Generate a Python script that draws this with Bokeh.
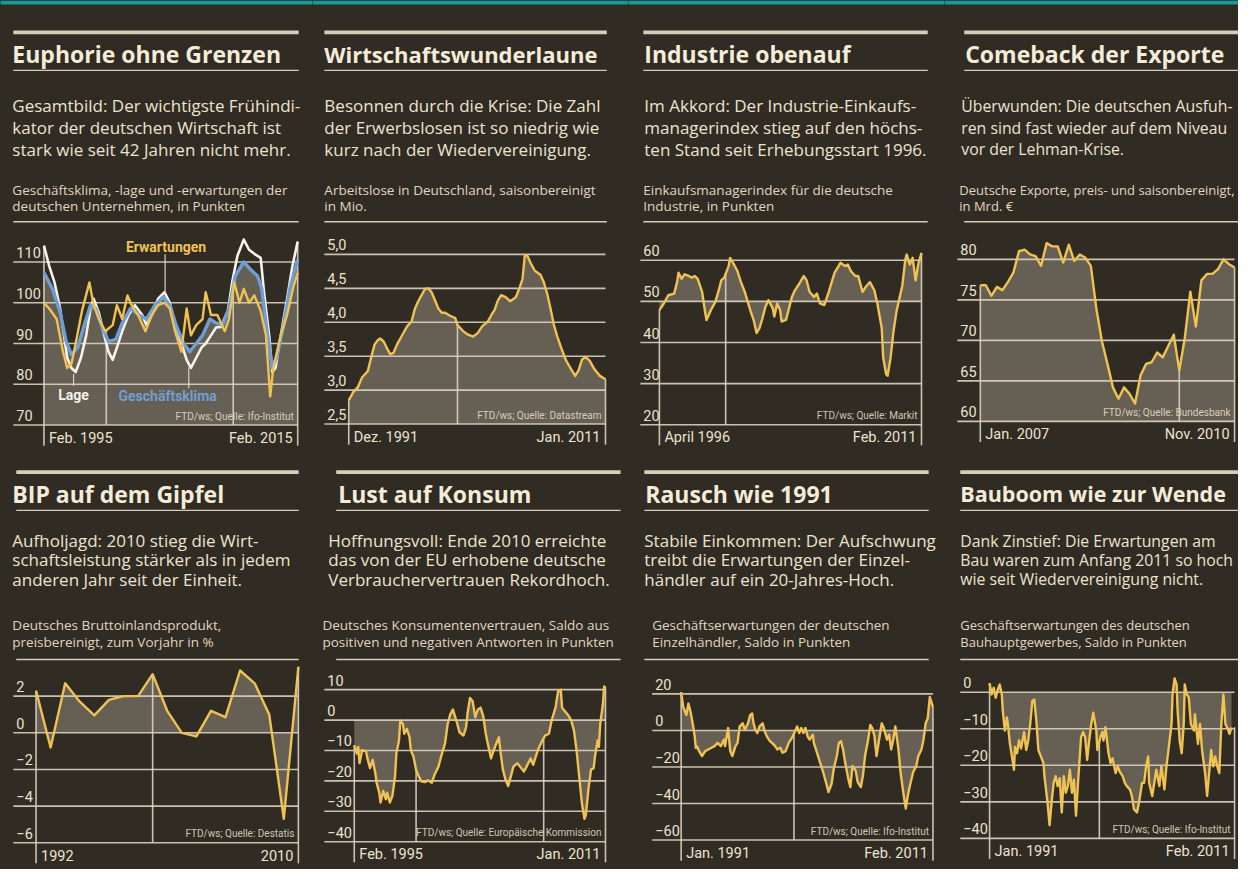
import numpy as np
from bokeh.plotting import figure
from bokeh.layouts import row, column
from bokeh.models import Range1d
from bokeh.core.properties import value
from bokeh.embed import file_html
from bokeh.resources import INLINE

# ---------------- data ----------------
# Panel 1: ifo (months from Feb. 1995)
ifo_lage_m = [0, 5, 10, 15, 19, 22, 26, 30, 35, 40, 44, 47, 52, 57, 61, 65, 69, 74, 80, 86,
              93, 97, 102, 108, 114, 119, 124, 130, 135, 139, 144, 149, 153, 158, 163, 167, 174, 178, 183, 189,
              194, 199, 205, 208, 213, 216, 219, 224, 230, 235, 240]
ifo_lage = [114, 109, 105, 99, 92, 86.5, 84, 83, 86.5, 92, 98.5, 101, 97.5, 92, 88, 86, 89, 93, 97, 99.4,
            97, 94.5, 97, 101, 102.6, 100, 95, 90, 86, 84, 86.5, 89, 90, 92, 94, 94, 98, 105, 111.5, 115.5,
            113, 112, 111, 103, 92, 83, 84, 92, 101, 109, 115]
ifo_klima_m = [0, 8, 15, 21, 26, 32, 38, 44, 49, 55, 61, 68, 74, 82, 90, 97, 105, 113, 119, 125,
               132, 138, 144, 150, 157, 163, 169, 175, 181, 189, 196, 202, 206, 211, 216, 220, 227, 233, 240]
ifo_klima = [107.4, 103.4, 98, 90.5, 87.3, 89, 94.5, 99.4, 98.6, 94, 90.5, 91, 95, 98.6, 97, 96, 99.4, 101.4, 99.4, 94.5,
             90, 88, 90, 92, 96, 95, 94.5, 98.6, 106.6, 110, 108, 106.6, 103.4, 93, 84, 86.5, 95, 104, 110.6]
ifo_erw_m = [0, 5, 12, 18, 22, 26, 30, 36, 43, 47, 52, 58, 65, 69, 74, 79, 83, 89, 96, 102,
             108, 114, 119, 124, 130, 135, 139, 144, 150, 153, 158, 164, 171, 175, 180, 185, 189, 194, 199, 205,
             210, 214, 217, 224, 230, 236, 240]
ifo_erw = [100, 98.6, 96, 88, 84, 85, 90, 98, 105, 99.4, 96, 93, 94.5, 99.4, 96, 101.8, 99.4, 97, 93, 97,
           99.4, 100, 98.6, 93, 88, 98.6, 92, 94.5, 96, 102.6, 97, 97, 93, 96, 105, 100, 103.4, 100, 101.8, 98,
           92, 77, 84, 92, 97, 104, 107.4]
ifo_ticks = [70, 80, 90, 100, 110]
ifo_tick_labels = ["70", "80", "90", "100", "110"]
ifo_vticks = [59, 179]
ifo_xlabels = ["Feb. 1995", "Feb. 2015"]

# Panel 2: Arbeitslose (months from Dez. 1991)
alo_m = [0, 4, 8, 12, 17, 20, 23, 26, 28, 31, 34, 37, 40, 43, 48, 52, 56, 59, 62, 65,
         68, 71, 74, 77, 80, 83, 86, 90, 95, 97, 102, 106, 111, 115, 119, 124, 127, 130, 133, 136,
         140, 144, 149, 152, 155, 157, 159, 162, 166, 171, 174, 177, 180, 183, 186, 190, 194, 199, 202, 205,
         208, 211, 215, 219, 224, 229]
alo_mio = [2.85, 2.97, 3.04, 3.19, 3.28, 3.48, 3.67, 3.74, 3.76, 3.72, 3.62, 3.53, 3.55, 3.67, 3.82, 3.94, 4.01, 4.20, 4.31, 4.40,
           4.49, 4.50, 4.44, 4.32, 4.20, 4.14, 4.14, 4.10, 4.06, 3.96, 3.87, 3.82, 3.79, 3.84, 3.94, 4.01, 4.10, 4.18, 4.32, 4.40,
           4.37, 4.31, 4.37, 4.49, 4.64, 4.98, 4.99, 4.88, 4.76, 4.70, 4.59, 4.42, 4.20, 3.96, 3.79, 3.60, 3.43, 3.29, 3.21, 3.29,
           3.45, 3.49, 3.43, 3.31, 3.21, 3.16]
alo_ticks = [2.5, 3.0, 3.5, 4.0, 4.5, 5.0]
alo_tick_labels = ["2,5", "3,0", "3,5", "4,0", "4,5", "5,0"]
alo_vticks = [97]
alo_xlabels = ["Dez. 1991", "Jan. 2011"]

# Panel 3: Einkaufsmanagerindex (months from April 1996)
pmi_m = [0, 3, 6, 10, 12, 13, 15, 17, 20, 22, 24, 26, 29, 31, 32, 35, 38, 40, 42, 44,
         47, 48, 50, 53, 55, 58, 60, 62, 64, 66, 68, 70, 72, 74, 77, 78, 80, 82, 83, 86,
         88, 90, 92, 95, 98, 100, 102, 105, 107, 109, 112, 115, 117, 119, 123, 126, 128, 130, 133, 135,
         138, 140, 143, 146, 148, 151, 152, 154, 155, 157, 159, 161, 163, 165, 167, 168, 170, 172, 174, 176, 178]
pmi = [47.9, 49.5, 51.5, 51.9, 54.7, 57.0, 55.5, 56.6, 56.2, 55.8, 56.2, 55.5, 52.3, 47.5, 45.5, 47.9, 49.9, 52.3, 55.1, 55.8,
       58.6, 60.6, 59.4, 57.4, 55.1, 52.3, 49.9, 47.5, 45.5, 42.3, 43.5, 45.9, 48.7, 50.3, 48.3, 46.3, 49.5, 47.9, 45.1, 45.5,
       48.3, 51.1, 52.7, 54.3, 56.2, 55.1, 52.3, 51.1, 51.9, 49.5, 49.1, 52.3, 54.7, 57.0, 59.4, 58.6, 59.0, 57.4, 56.2, 56.2,
       52.3, 53.5, 54.7, 52.7, 49.5, 43.5, 36.3, 32.3, 31.9, 36.3, 42.7, 47.5, 50.7, 53.9, 60.2, 61.4, 59.0, 60.6, 55.1, 59.4, 61.8]
pmi_ticks = [20, 30, 40, 50, 60]
pmi_tick_labels = ["20", "30", "40", "50", "60"]
pmi_vticks = [45]
pmi_xlabels = ["April 1996", "Feb. 2011"]

# Panel 4: Exporte (months from Jan. 2007)
exp_m = list(range(47))
exp_mrd = [76.8, 76.8, 75.5, 76.6, 76.2, 77.2, 78.4, 81.0, 81.2, 80.6, 80.4, 79.2, 82.0, 81.6, 81.6, 79.6, 81.8, 79.8, 80.6, 80.2,
           79.2, 73.9, 69.9, 67.1, 64.2, 62.8, 64.2, 63.4, 62.2, 65.7, 67.1, 67.3, 68.5, 67.9, 69.3, 70.7, 66.3, 70.3, 76.0, 71.7,
           77.4, 78.2, 78.2, 78.8, 80.0, 79.4, 79.0]
exp_ticks = [60, 65, 70, 75, 80]
exp_tick_labels = ["60", "65", "70", "75", "80"]
exp_vticks = [36]
exp_xlabels = ["Jan. 2007", "Nov. 2010"]

# Panel 5: BIP
bip_years = [1992, 1993, 1994, 1995, 1996, 1997, 1998, 1999, 2000, 2001,
             2002, 2003, 2004, 2005, 2006, 2007, 2008, 2009, 2010]
bip_pct = [2.3, -0.8, 2.7, 1.7, 0.95, 1.8, 2.0, 2.0, 3.2, 1.2,
           0.0, -0.2, 1.2, 0.85, 3.4, 2.7, 1.0, -4.7, 3.6]
bip_ticks = [-6, -4, -2, 0, 2]
bip_tick_labels = ["\u22126", "\u22124", "\u22122", "0", "2"]
bip_vticks = [2000]
bip_xlabels = ["1992", "2010"]

# Panel 6: Konsumentenvertrauen (months from Feb. 1995)
kon_m = [0, 2, 3, 4, 6, 9, 10, 12, 14, 16, 17, 19, 20, 22, 24, 25, 27, 29, 31, 32,
         34, 35, 37, 38, 40, 42, 43, 45, 47, 49, 51, 54, 56, 59, 61, 64, 66, 69, 71, 73,
         75, 78, 80, 83, 85, 86, 88, 90, 92, 94, 96, 98, 100, 101, 104, 106, 108, 110, 111, 113,
         115, 117, 119, 121, 124, 126, 129, 131, 134, 136, 138, 140, 143, 145, 148, 150, 153, 155, 157, 158,
         160, 163, 165, 167, 169, 171, 173, 175, 176, 178, 180, 182, 183, 185, 186, 187, 189, 190, 191]
kon = [-8.3, -11, -8.8, -14.2, -9.9, -10.4, -12.6, -15.8, -13.1, -17.4, -20.6, -23.9, -27.1, -23.3, -26, -23.9, -27.1, -24.9, -18.5, -11,
       -6.7, -0.2, -1.3, -4.5, -2.9, -5.6, -9.9, -12, -16.3, -18.5, -20.1, -20.4, -19.8, -20.6, -18, -15.3, -12, -7.7, -1.3, 1.9,
       3.5, -0.8, -4, -5.1, -2.4, 1.9, 7.3, 6.2, 0.9, 3.5, 4.1, 1.4, -4.5, -6.7, -12.6, -9.9, -7.7, -5.6, -9.9, -16.3,
       -19.6, -21.7, -18.5, -15.3, -14.2, -15.3, -16.9, -15.3, -12.6, -14.7, -12, -9.4, -6.7, -5.1, -4.5, -0.2, 4.1, 9.5, 10, 4.1,
       3, 1.4, -0.2, -3.4, -9.9, -18.5, -27.1, -32.5, -31.4, -22.8, -16.3, -15.8, -12, -6.7, -8.8, -1.3, 5.2, 11.1, 10.5]
kon_ticks = [-40, -30, -20, -10, 0, 10]
kon_tick_labels = ["\u221240", "\u221230", "\u221220", "\u221210", "0", "10"]
kon_vticks = [47, 144]
kon_xlabels = ["Feb. 1995", "Jan. 2011"]

# Panel 7: Einzelhandel (months from Jan. 1991)
ezh_m = [0, 2, 5, 7, 9, 11, 13, 14, 15, 18, 20, 23, 26, 29, 32, 35, 38, 41, 42, 45,
         47, 49, 52, 54, 56, 59, 61, 64, 66, 68, 69, 71, 73, 75, 78, 80, 82, 85, 87, 90,
         92, 95, 97, 100, 103, 106, 109, 111, 113, 115, 117, 119, 121, 123, 126, 127, 130, 133, 136, 139,
         141, 144, 146, 149, 151, 153, 155, 157, 160, 162, 164, 167, 169, 172, 174, 176, 179, 181, 183, 185,
         187, 190, 192, 194, 197, 199, 201, 203, 205, 208, 210, 213, 215, 217, 219, 222, 225, 227, 230, 232,
         234, 236, 238, 239, 241]
ezh = [21, 12.9, 8.4, 14.7, 10.2, 3.9, -3.2, -9.5, -8.6, -12.2, -14, -11.3, -10.4, -9.5, -8.6, -6.8, -8.6, -5, -8.6, 1.3,
       -11.3, -14, -8.6, -6.8, 2.2, 3.9, 0.4, 3.9, 8.4, 9.3, 4.8, 0.4, -1.4, 2.2, 3.9, -0.5, -3.2, -5.9, -6.8, -8.6,
       -10.4, -9.5, -12.2, -11.3, -6.8, -4.1, -0.5, 2.2, -1.4, 1.3, -1.4, 1.3, -3.2, -5, -2.3, -6.8, -12.2, -17.6, -22.9, -29.2,
       -33.7, -29.2, -21.1, -14, -6.8, -5.9, -10.4, -17.6, -26.5, -31, -19.4, -22, -28.3, -31, -24.7, -14, -5, 3, 1.3, -3.2,
       -14, -3.2, 3.9, 1.3, -5, -2.3, -10.4, -5, 2.2, -10.4, -22.9, -35.5, -42.7, -35.5, -30.1, -22.9, -19.4, -14, -10.4, -5,
       3.9, 6.6, 18.3, 16.5, 12.9]
ezh_ticks = [-60, -40, -20, 0, 20]
ezh_tick_labels = ["\u221260", "\u221240", "\u221220", "0", "20"]
ezh_vticks = [108]
ezh_xlabels = ["Jan. 1991", "Feb. 2011"]

# Panel 8: Bauhauptgewerbe (months from Jan. 1991)
bau_m = [0, 2, 4, 6, 8, 10, 12, 13, 15, 17, 18, 20, 22, 24, 25, 27, 29, 31, 34, 36,
         38, 40, 42, 44, 46, 48, 50, 53, 54, 57, 59, 61, 63, 65, 67, 69, 71, 73, 75, 77,
         79, 81, 83, 85, 87, 90, 92, 94, 96, 98, 100, 102, 105, 106, 109, 111, 112, 114, 117, 119,
         121, 124, 126, 128, 131, 133, 135, 138, 140, 142, 145, 147, 150, 152, 154, 156, 157, 160, 162, 164,
         167, 169, 172, 174, 176, 179, 180, 182, 184, 185, 187, 189, 191, 192, 194, 196, 198, 201, 202, 205,
         207, 209, 212, 214, 216, 218, 220, 222, 224, 226, 228, 230, 232, 235, 236, 238]
bau = [2.5, -0.6, 1.2, -1.5, 0.7, 2.1, -0.6, -5.1, -10.5, -6.9, -8.7, -14.1, -17.6, -21.2, -15, -16.7, -13.2, -15.4, -10.9, -15.8,
       -13.2, -8.7, -2.4, -2, -7.8, -15.8, -17.2, -19.4, -23, -30.2, -36.4, -30.2, -24.8, -23, -25.7, -23.5, -32.9, -23, -27.5, -25.7,
       -21.2, -27.5, -23.9, -33.8, -24.8, -12.3, -10.9, -12.3, -18.5, -13.2, -8.7, -5.6, -10.5, -15.8, -12.3, -10.9, -13.2, -9.6, -16.7, -19.4,
       -18.1, -22.1, -20.3, -21.7, -23, -24.8, -25.7, -26.6, -28.4, -32, -32.9, -30.2, -24.8, -24.8, -20.3, -17.6, -24.8, -28.4, -24.8, -21.2,
       -25.7, -20.3, -26.6, -20.3, -15.8, -8.7, -0.6, 3.8, 2.1, -5.1, -13.2, -16.7, -8.7, 2.1, -0.6, -1.5, -8.7, -10.5, -6, -14.1,
       -8.7, -15.8, -22.1, -28.4, -22.1, -15.8, -20.3, -17.6, -20.3, -22.1, -8.7, -0.6, -8.7, -10.5, -11.4, -9.6]
bau_ticks = [-40, -30, -20, -10, 0]
bau_tick_labels = ["\u221240", "\u221230", "\u221220", "\u221210", "0"]
bau_vticks = [108]
bau_xlabels = ["Jan. 1991", "Feb. 2011"]

# ---------------- style / layout ----------------
BG = "#302b23"
TEAL = "#139c98"
HEAD_C = "#f4ecd9"
TXT = "#ece3cf"
SUB_C = "#e0d6c0"
GRID = "#dbd3c1"
RULE = "#d6cdb8"
YEL = "#efc253"
BLUE = "#6f9fd2"
WHITE = "#f6f2ea"
FILL = "#a8a090"
HFONT = value("Open Sans")
BFONT = value("Open Sans")
NFONT = value("Roboto")

CANVAS_W, CANVAS_H = 1238, 869
REF_W, REF_H = 1254, 885
COLS = [0, 316, 636, 956, 1254]      # column edges in reference pixels
ROWS = [0, 237, 462, 674, 885]       # row edges in reference pixels


def cpx(v, ref, can):
    return int(round(v * can / ref))


def fig_size(box):
    L, T, R, B = box
    w = cpx(R, REF_W, CANVAS_W) - cpx(L, REF_W, CANVAS_W)
    h = cpx(B, REF_H, CANVAS_H) - cpx(T, REF_H, CANVAS_H)
    return w, h


def new_fig(w, h, xr, yr):
    return figure(width=w, height=h, x_range=xr, y_range=yr, output_backend="svg",
                  toolbar_location=None, x_axis_type=None, y_axis_type=None,
                  min_border=0, outline_line_color=None,
                  background_fill_color=BG, border_fill_color=BG)


def make_header(col, rw, rx, ys, hx, px, sx, head, para, sub,
                hsize="23px", psize="17px", ssize="13.5px"):
    box = (COLS[col], ROWS[rw], COLS[col + 1], ROWS[rw + 1])
    w, h = fig_size(box)
    p = new_fig(w, h, Range1d(box[0], box[2]), Range1d(box[3], box[1]))
    if rw == 0:
        p.segment(x0=[box[0] - 10], x1=[box[2] + 10], y0=[2], y1=[2], line_color=TEAL, line_width=4)
    top, hc, mid, pc, sc, bot = ys
    p.segment(x0=[rx[0]] * 3, x1=[rx[1]] * 3, y0=[top, mid, bot], y1=[top, mid, bot],
              line_color=RULE, line_width=[3.8, 1.2, 1.6])
    p.text(x=[hx], y=[hc], text=[head], text_font=HFONT, text_font_style="bold",
           text_font_size=hsize, text_color=HEAD_C, text_baseline="middle")
    p.text(x=[px] * len(para), y=pc, text=para, text_font=BFONT, text_font_size=psize,
           text_color=TXT, text_baseline="middle")
    p.text(x=[sx] * len(sub), y=sc, text=sub, text_font=BFONT, text_font_size=ssize,
           text_color=SUB_C, text_baseline="middle")
    return p


def make_chart(col, rw, xaxis, yref, gx, ticks, tlabels, vticks, series, fill, base, xlabels, source):
    L, T, R, B = COLS[col], ROWS[rw], COLS[col + 1], ROWS[rw + 1]
    w, h = fig_size((L, T, R, B))
    xa, xb, x0, x1 = xaxis
    yv0, yp0, yv1, yp1 = yref
    k = (xb - xa) / (x1 - x0)
    s = (yp1 - yp0) / (yv0 - yv1)
    p = new_fig(w, h, Range1d(x0 - (xa - L) / k, x0 + (R - xa) / k),
                Range1d(yv0 - (B - yp0) / s, yv0 + (yp0 - T) / s))
    gxd = x0 - (xa - gx) / k
    bottom = min(ticks)
    n = len(ticks)
    p.varea(x=fill[0], y1=base, y2=fill[1], fill_color=FILL, fill_alpha=0.45)
    p.segment(x0=[gxd] * n, x1=[x1] * n, y0=ticks, y1=ticks, line_color=GRID, line_width=1.6, line_alpha=0.9)
    vx = [x0] + list(vticks) + [x1]
    tops = [max(float(np.interp(v, sr[0], sr[1])) for sr in series) for v in vx]
    ext = 21.0 / s
    bots = [bottom - ext] + [bottom] * len(vticks) + [bottom - ext]
    p.segment(x0=vx, x1=vx, y0=bots, y1=tops, line_color=GRID, line_width=1.6, line_alpha=0.9)
    for sx_, sy_, colr, lw in series:
        p.line(sx_, sy_, line_color=colr, line_width=lw, line_join="round")
    p.text(x=[gxd] * n, y=ticks, text=tlabels, x_offset=3, y_offset=-9.5, text_font=NFONT,
           text_font_size="14.5px", text_color=TXT, text_baseline="middle")
    p.text(x=[x0], y=[bottom], text=[xlabels[0]], x_offset=5, y_offset=13, text_font=NFONT,
           text_font_size="14.5px", text_color=TXT, text_baseline="middle", text_align="left")
    p.text(x=[x1], y=[bottom], text=[xlabels[1]], x_offset=-5, y_offset=13, text_font=NFONT,
           text_font_size="14.5px", text_color=TXT, text_baseline="middle", text_align="right")
    p.text(x=[x1], y=[bottom], text=[source], x_offset=-4, y_offset=-9, text_font=NFONT,
           text_font_size="10px", text_color=TXT, text_alpha=0.85, text_baseline="middle", text_align="right")
    return p


# rule / text-centre positions (reference pixels): top rule, headline, rule, paragraph, subtitle, rule
R1 = (32.5, 54, 71, [107, 129.5, 151.5], [192.5, 209], 225)
R2 = (480, 502, 519, [550, 569.5, 589], [635.5, 653.5], 671)

h1 = make_header(0, 0, (13, 302), R1, 12, 12, 12, "Euphorie ohne Grenzen",
                 ["Gesamtbild: Der wichtigste Frühindi-", "kator der deutschen Wirtschaft ist",
                  "stark wie seit 42 Jahren nicht mehr."],
                 ["Geschäftsklima, -lage und -erwartungen der", "deutschen Unternehmen, in Punkten"])
h2 = make_header(1, 0, (328, 614), R1, 328, 328, 328, "Wirtschaftswunderlaune",
                 ["Besonnen durch die Krise: Die Zahl", "der Erwerbslosen ist so niedrig wie",
                  "kurz nach der Wiedervereinigung."],
                 ["Arbeitslose in Deutschland, saisonbereinigt", "in Mio."], hsize="22px")
h3 = make_header(2, 0, (651, 939), R1, 652, 652, 651, "Industrie obenauf",
                 ["Im Akkord: Der Industrie-Einkaufs-", "managerindex stieg auf den höchs-",
                  "ten Stand seit Erhebungsstart 1996."],
                 ["Einkaufsmanagerindex für die deutsche", "Industrie, in Punkten"])
h4 = make_header(3, 0, (976, 1254), R1, 977, 973, 971, "Comeback der Exporte",
                 ["Überwunden: Die deutschen Ausfuh-", "ren sind fast wieder auf dem Niveau",
                  "vor der Lehman-Krise."],
                 ["Deutsche Exporte, preis- und saisonbereinigt,", "in Mrd. €"],
                 psize="15.8px", ssize="13px")
h5 = make_header(0, 2, (16, 302), R2, 12, 12, 12, "BIP auf dem Gipfel",
                 ["Aufholjagd: 2010 stieg die Wirt-", "schaftsleistung stärker als in jedem",
                  "anderen Jahr seit der Einheit."],
                 ["Deutsches Bruttoinlandsprodukt,", "preisbereinigt, zum Vorjahr in %"])
h6 = make_header(1, 2, (340, 628), R2, 342, 332, 326, "Lust auf Konsum",
                 ["Hoffnungsvoll: Ende 2010 erreichte", "das von der EU erhobene deutsche",
                  "Verbrauchervertrauen Rekordhoch."],
                 ["Deutsches Konsumentenvertrauen, Saldo aus", "positiven und negativen Antworten in Punkten"])
h7 = make_header(2, 2, (652, 940), R2, 653, 652, 660, "Rausch wie 1991",
                 ["Stabile Einkommen: Der Aufschwung", "treibt die Erwartungen der Einzel-",
                  "händler auf ein 20-Jahres-Hoch."],
                 ["Geschäftserwartungen der deutschen", "Einzelhändler, Saldo in Punkten"])
h8 = make_header(3, 2, (972, 1254), R2, 972, 972, 972, "Bauboom wie zur Wende",
                 ["Dank Zinstief: Die Erwartungen am", "Bau waren zum Anfang 2011 so hoch",
                  "wie seit Wiedervereinigung nicht."],
                 ["Geschäftserwartungen des deutschen", "Bauhauptgewerbes, Saldo in Punkten"],
                 hsize="21.5px", psize="15.8px", ssize="13px")

c1 = make_chart(0, 1, (44, 301, 0, 240), (110, 266, 70, 432), 13,
                ifo_ticks, ifo_tick_labels, ifo_vticks,
                [(ifo_lage_m, ifo_lage, WHITE, 2.6), (ifo_klima_m, ifo_klima, BLUE, 3.4),
                 (ifo_erw_m, ifo_erw, YEL, 2.4)],
                (ifo_klima_m, ifo_klima), 70, ifo_xlabels, "FTD/ws; Quelle: Ifo-Institut")
c1.segment(x0=[114.6, 28, 137], x1=[114.6, 28, 137], y0=[111.9, 82.5, 84.2], y1=[102.5, 79.6, 79.0],
           line_color=GRID, line_width=1.2)
c1.text(x=[115.5, 28, 117], y=[113.6, 77.3, 77.0], text=["Erwartungen", "Lage", "Geschäftsklima"],
        text_color=[YEL, WHITE, BLUE], text_font=NFONT, text_font_style="bold", text_font_size="14px",
        text_align="center", text_baseline="middle")

c2 = make_chart(1, 1, (352.7, 612.7, 0, 229), (5.0, 258.3, 2.5, 431), 328,
                alo_ticks, alo_tick_labels, alo_vticks, [(alo_m, alo_mio, YEL, 2.4)],
                (alo_m, alo_mio), 2.5, alo_xlabels, "FTD/ws; Quelle: Datastream")
c3 = make_chart(2, 1, (667.3, 932.7, 0, 178), (60, 264.3, 20, 431.7), 648,
                pmi_ticks, pmi_tick_labels, pmi_vticks, [(pmi_m, pmi, YEL, 2.4)],
                (pmi_m, pmi), 50, pmi_xlabels, "FTD/ws; Quelle: Markit")
c4 = make_chart(3, 1, (992.3, 1250, 0, 46), (80, 263.3, 60, 428.3), 969,
                exp_ticks, exp_tick_labels, exp_vticks, [(exp_m, exp_mrd, YEL, 2.4)],
                (exp_m, exp_mrd), 60, exp_xlabels, "FTD/ws; Quelle: Bundesbank")
c5 = make_chart(0, 3, (36, 301.7, 1992, 2010), (2, 708.3, -6, 857.7), 13,
                bip_ticks, bip_tick_labels, bip_vticks, [(bip_years, bip_pct, YEL, 2.4)],
                (bip_years, bip_pct), 0, bip_xlabels, "FTD/ws; Quelle: Destatis")
c6 = make_chart(1, 3, (358.3, 612.7, 0, 191), (10, 701.7, -40, 856.7), 328,
                kon_ticks, kon_tick_labels, kon_vticks, [(kon_m, kon, YEL, 2.4)],
                (kon_m, kon), 0, kon_xlabels, "FTD/ws; Quelle: Europäische Kommission")
c7 = make_chart(2, 3, (689.3, 944.3, 0, 241), (20, 706, -60, 855), 660,
                ezh_ticks, ezh_tick_labels, ezh_vticks, [(ezh_m, ezh, YEL, 2.4)],
                (ezh_m, ezh), 0, ezh_xlabels, "FTD/ws; Quelle: Ifo-Institut")
c8 = make_chart(3, 3, (1001.7, 1250, 0, 241), (0, 704.3, -40, 853.3), 972,
                bau_ticks, bau_tick_labels, bau_vticks, [(bau_m, bau, YEL, 2.4)],
                (bau_m, bau), 0, bau_xlabels, "FTD/ws; Quelle: Ifo-Institut")

bg_style = {"background-color": BG}
layout = row(column(h1, c1, h5, c5, styles=bg_style), column(h2, c2, h6, c6, styles=bg_style),
             column(h3, c3, h7, c7, styles=bg_style), column(h4, c4, h8, c8, styles=bg_style),
             styles=bg_style)

open("out.html", "w").write(file_html(layout, INLINE))
